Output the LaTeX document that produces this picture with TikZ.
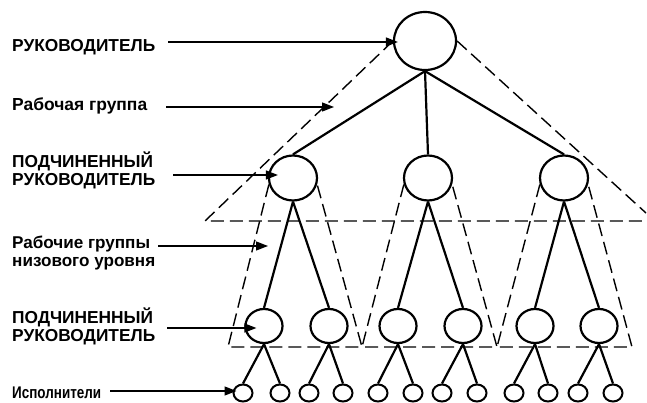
\documentclass[tikz,border=0pt]{standalone}
\usepackage{fontspec}
\usepackage{graphicx}
\setmainfont{Liberation Sans}
\usetikzlibrary{shapes.geometric,arrows.meta,calc}
\newcommand{\lbltxt}[3]{\resizebox{#1}{!}{\fontsize{16}{#2}\selectfont\bfseries\begin{tabular}[t]{@{}l@{}}#3\end{tabular}}}
\begin{document}
\begin{tikzpicture}[x=1pt,y=-1pt,
  lab/.style={anchor=base west,inner sep=0pt},
  unit/.style={ellipse,draw,line width=2.2pt,inner sep=0pt},
  lvl0/.style={unit,minimum width=62pt,minimum height=58pt},
  lvl1/.style={unit,minimum width=48pt,minimum height=45pt},
  lvl2/.style={unit,minimum width=37pt,minimum height=34pt},
  lvl3/.style={unit,line width=2pt,minimum width=19pt,minimum height=17pt},
  link/.style={line width=2.2pt},
  grp/.style={line width=1.4pt,dash pattern=on 13pt off 6pt},
  arr/.style={line width=1.3pt,-{Triangle[length=12pt,width=9pt]}}
]
\useasboundingbox (0,0) rectangle (647,403);

% hierarchy
\node[lvl0] (top) at (425,41) {};
\node[lvl1] (a) at (293,178) {};
\node[lvl1] (b) at (428,178) {};
\node[lvl1] (c) at (564,178) {};
\foreach \n/\x in {a1/264,a2/329,b1/398,b2/463,c1/535,c2/599}
  \node[lvl2] (\n) at (\x,326) {};
\foreach \p/\l/\r in {a1/243/280,a2/309/343,b1/378/413,b2/442/477,c1/514/548,c2/578/613}{
  \node[lvl3] (\p l) at (\l,393) {};
  \node[lvl3] (\p r) at (\r,393) {};
  \draw[link] (\p.south) -- (\p l.north);
  \draw[link] (\p.south) -- (\p r.north);
}
\foreach \n in {a,b,c}{
  \draw[link] (top.south) -- (\n.north);
  \draw[link] (\n.south) -- (\n1.north);
  \draw[link] (\n.south) -- (\n2.north);
}

% working groups (dashed)
\coordinate (tl) at (205,221);
\coordinate (tr) at (646,221);
\coordinate (te) at (646,213);
\draw[grp] (top.west) -- (tl) -- (tr);
\draw[grp] (top.east) -- (te);
\coordinate (bl) at (228,347);
\coordinate (v1) at (362,347);
\coordinate (v2) at (497,347);
\coordinate (br) at (632,347);
\draw[grp] (a.195) -- (bl) -- (v1) -- (a.-15);
\draw[grp] (b.195) -- (v1) -- (v2) -- (b.-15);
\draw[grp] (c.195) -- (v2) -- (br) -- (c.-15);

% labels
\node[lab] (L1) at (12,52) {\lbltxt{143pt}{18}{РУКОВОДИТЕЛЬ}};
\node[lab] (L2) at (12,111) {\lbltxt{135pt}{18}{Рабочая группа}};
\node[lab] (L3) at (12,168) {\lbltxt{143pt}{15.5}{ПОДЧИНЕННЫЙ\\РУКОВОДИТЕЛЬ}};
\node[lab] (L4) at (12,248) {\lbltxt{143pt}{17}{Рабочие группы\\низового уровня}};
\node[lab] (L5) at (12,323) {\lbltxt{143pt}{17.3}{ПОДЧИНЕННЫЙ\\РУКОВОДИТЕЛЬ}};
\node[lab] (L6) at (12,398) {\resizebox{89pt}{11.6pt}{\fontsize{16}{18}\selectfont\bfseries Исполнители}};

\coordinate (g1) at (334,107);
\coordinate (g2) at (268,246);
\draw[arr] (168,42) -- ([xshift=5pt]top.west |- 0,42);
\draw[arr] (166,107) -- (g1);
\draw[arr] (173,175) -- ([xshift=10pt]a.west |- 0,175);
\draw[arr] (158,246) -- (g2);
\draw[arr] (167,328) -- ([xshift=12pt]a1.west |- 0,328);
\draw[arr] (110,391) -- ([xshift=4pt]a1l.west |- 0,391);
\end{tikzpicture}
\end{document}
